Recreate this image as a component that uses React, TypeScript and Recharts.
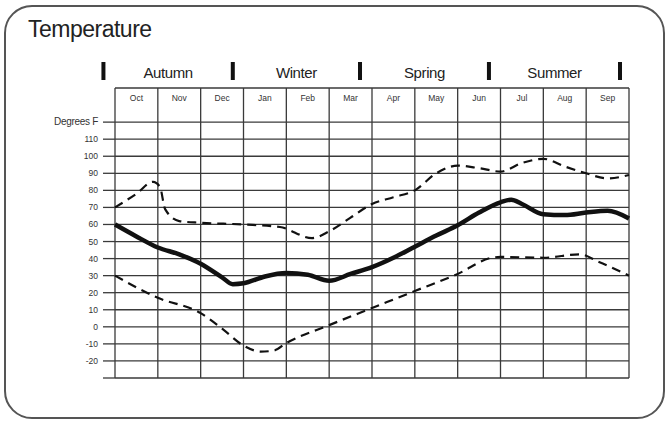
import { LineChart, Line, XAxis, YAxis, CartesianGrid } from 'recharts'

const MONTHS = ['Oct', 'Nov', 'Dec', 'Jan', 'Feb', 'Mar', 'Apr', 'May', 'Jun', 'Jul', 'Aug', 'Sep']
const SEASONS = ['Autumn', 'Winter', 'Spring', 'Summer']
// where the heavy season markers sit, in month units
const SEASON_EDGES = [-0.27, 2.75, 5.72, 8.73, 11.79]
const Y_TICKS = [-30, -20, -10, 0, 10, 20, 30, 40, 50, 60, 70, 80, 90, 100, 110, 120]
const MONTH_EDGES = [0, 1, 2, 3, 4, 5, 6, 7, 8, 9, 10, 11, 12]

// average temperature (thick line)
const avgAt = [0, 0.5, 1, 1.5, 2, 2.5, 2.75, 3, 3.5, 4, 4.5, 5, 5.5, 6, 6.5, 7, 7.5, 8, 8.5, 9, 9.25, 9.5, 10, 10.5, 11, 11.5, 12]
const avgTemp = [60, 53, 46.5, 42.5, 37, 29, 25, 25.5, 29.5, 31.5, 30.5, 27, 31, 35, 40.5, 47, 53.5, 59.5, 67, 73, 74.5, 72, 66, 65.5, 67, 68, 63.5]

// record highs (upper dashed)
const highAt = [0, 0.5, 0.89, 1.05, 1.17, 1.5, 2, 3, 3.85, 4.6, 5, 5.5, 6, 6.5, 7, 7.5, 8, 8.5, 9, 9.5, 10, 10.5, 11, 11.5, 12]
const highTemp = [70, 78, 85, 82, 69, 62, 61, 60, 58.5, 52, 56, 64, 72, 76, 80, 90, 94.5, 93, 91, 96, 98.5, 94, 90, 87, 89]

// record lows (lower dashed)
const lowAt = [0, 1, 2, 2.5, 3, 3.4, 3.7, 4, 5, 6, 7, 8, 8.8, 9, 10, 10.85, 11.3, 12]
const lowTemp = [30, 17, 8, -1, -11, -14.5, -14, -9.5, 1, 11, 21, 31, 40.5, 41, 40.5, 42.5, 38, 30]

const toRows = (xs: number[], ys: number[]) => xs.map((m, i) => ({ m, t: ys[i] }))

const FONT = '"Liberation Sans", Arial, Helvetica, sans-serif'
const GRID = '#3a3a3a'

function YTick(props: any) {
  const { x, y, payload } = props
  const v = payload.value
  if (v === -30) return <g />
  const isTop = v === 120
  return (
    <text x={x} y={y} dy={3} textAnchor="end" fontSize={isTop ? 10 : 8.5} fill="#333" fontFamily={FONT} letterSpacing={isTop ? -0.3 : 0}>
      {isTop ? 'Degrees F' : String(v)}
    </text>
  )
}

function MonthTick(props: any) {
  const { x, payload } = props
  return (
    <text x={x} y={101} textAnchor="middle" fontSize={8.5} fill="#333" fontFamily={FONT}>
      {MONTHS[Math.floor(payload.value)]}
    </text>
  )
}

function SeasonTick(props: any) {
  const { x, payload } = props
  const edge = SEASON_EDGES.indexOf(payload.value)
  if (edge >= 0) return <rect x={x - 2} y={62} width={4} height={18} fill="#111" />
  const mids = SEASONS.map((_, i) => (SEASON_EDGES[i] + SEASON_EDGES[i + 1]) / 2)
  const idx = mids.indexOf(payload.value)
  return (
    <text x={x} y={78} textAnchor="middle" fontSize={15} fill="#222" fontFamily={FONT} letterSpacing={-0.4}>
      {SEASONS[idx]}
    </text>
  )
}

const NoTick = () => <g />

export default function App() {
  const seasonMids = SEASONS.map((_, i) => (SEASON_EDGES[i] + SEASON_EDGES[i + 1]) / 2)
  const avgRows = toRows(avgAt, avgTemp)
  return (
    <div style={{ position: 'absolute', left: 0, top: 0, width: 666, height: 421, background: '#fff' }}>
      <div
        style={{
          position: 'absolute', left: 4, top: 5, width: 657, height: 410,
          border: '2px solid #555', borderRadius: 28,
        }}
      />
      <div
        style={{
          position: 'absolute', left: 28, top: 18, fontFamily: FONT, fontSize: 23,
          lineHeight: 1, letterSpacing: -0.5, color: '#222',
        }}
      >
        Temperature
      </div>
      <LineChart data={avgRows} width={666} height={421} margin={{ top: 86, right: 37, bottom: 42, left: 55 }} style={{ position: 'absolute', left: 0, top: 0 }}>
        <CartesianGrid stroke={GRID} strokeWidth={1.3} />
        <XAxis dataKey="m" type="number" domain={[0, 12]} ticks={MONTH_EDGES} interval={0} tick={<NoTick />} tickLine={false} axisLine={false} height={1} />
        <XAxis xAxisId="months" dataKey="m" orientation="top" type="number" domain={[0, 12]} ticks={MONTH_EDGES.slice(0, 12).map(v => v + 0.5)} interval={0} tick={<MonthTick />} tickLine={false} axisLine={false} height={1} />
        <XAxis xAxisId="seasons" dataKey="m" orientation="top" type="number" domain={[0, 12]} allowDataOverflow ticks={[...SEASON_EDGES, ...seasonMids]} interval={0} tick={<SeasonTick />} tickLine={false} axisLine={false} height={1} />
        <YAxis type="number" domain={[-30, 140]} ticks={Y_TICKS} interval={0} width={60} axisLine={false} tickSize={12} tickMargin={5} tickLine={{ stroke: GRID, strokeWidth: 1.3 }} tick={<YTick />} />
        <Line data={toRows(highAt, highTemp)} dataKey="t" type="monotone" stroke="#111" strokeWidth={2.2} strokeDasharray="9 6" dot={false} isAnimationActive={false} />
        <Line data={toRows(lowAt, lowTemp)} dataKey="t" type="monotone" stroke="#111" strokeWidth={2.2} strokeDasharray="9 6" dot={false} isAnimationActive={false} />
        <Line dataKey="t" type="monotone" stroke="#111" strokeWidth={4.5} dot={false} isAnimationActive={false} />
      </LineChart>
    </div>
  )
}
